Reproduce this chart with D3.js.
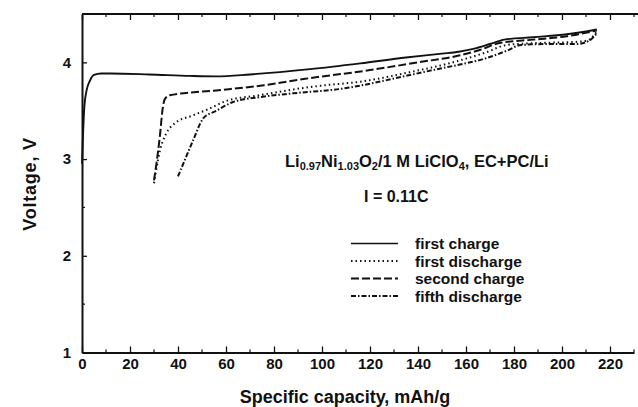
<!DOCTYPE html>
<html>
<head>
<meta charset="utf-8">
<script src="https://cdn.jsdelivr.net/npm/d3@7"></script>
<style>
  body { margin: 0; background: #fff; }
  svg { display: block; font-family: 'Liberation Sans', Arial, sans-serif; font-weight: bold; }
</style>
</head>
<body>
<svg id="chart" width="638" height="407"></svg>
<script>
// Axis ticks
const xTicks = [0, 20, 40, 60, 80, 100, 120, 140, 160, 180, 200, 220];
const yTicks = [1, 2, 3, 4];

// [specific capacity mAh/g, voltage V]
const firstCharge = [
  [0, 2.95], [0.5, 3.3], [1, 3.55], [2, 3.72], [3.3, 3.81], [5, 3.87], [8, 3.885],
  [12, 3.885], [28, 3.875], [45, 3.86], [56, 3.855], [70, 3.875], [95, 3.93],
  [116, 3.99], [135, 4.05], [150, 4.09], [157, 4.11], [163, 4.14], [170, 4.19],
  [176, 4.235], [188, 4.26], [202, 4.29], [214.5, 4.34]
];
const firstDischarge = [
  [30, 2.75], [31, 2.9], [32.5, 3.09], [35, 3.26], [38.7, 3.37], [46, 3.45],
  [53, 3.52], [60, 3.6], [74, 3.66], [88, 3.72], [100, 3.76], [116, 3.8],
  [135, 3.89], [156, 4.01], [168, 4.1], [177, 4.18], [190, 4.2], [205, 4.21],
  [211, 4.23], [214.5, 4.32]
];
const secondCharge = [
  [30, 2.78], [31, 2.95], [32.5, 3.25], [33.5, 3.5], [34.5, 3.62], [36.5, 3.66],
  [56, 3.71], [75, 3.76], [93, 3.83], [120, 3.92], [140, 4.0], [157, 4.07],
  [166, 4.13], [174, 4.2], [188, 4.235], [202, 4.27], [214.5, 4.33]
];
const fifthDischarge = [
  [40, 2.82], [43, 3.0], [46.4, 3.2], [50.5, 3.42], [56, 3.5], [63, 3.59],
  [74, 3.64], [88, 3.68], [109, 3.73], [116, 3.76], [135, 3.86], [150, 3.94],
  [158, 3.98], [168, 4.04], [177, 4.12], [183, 4.18], [195, 4.19], [206, 4.19],
  [211, 4.22], [214.5, 4.3]
];

const seriesNames = ['first charge', 'first discharge', 'second charge', 'fifth discharge'];
const seriesData = [firstCharge, firstDischarge, secondCharge, fifthDischarge];
const seriesDash = [null, '1.5,3', '8,3', '5,2,1.5,2'];

const svg = d3.select('#chart');
const ink = '#111';

const x = d3.scaleLinear().domain([0, 230]).range([82, 634]);
const y = d3.scaleLinear().domain([1, 4.5]).range([352.5, 14]);

// minor ticks
const xMinor = d3.range(10, 231, 20);
const yMinor = [1.5, 2.5, 3.5];

// bottom axis
const bottomAxis = svg.append('g').attr('transform', 'translate(0,352.5)');
bottomAxis.call(d3.axisBottom(x).tickValues(xTicks).tickSizeInner(-6).tickSizeOuter(0).tickPadding(6));
bottomAxis.selectAll('.tick line').attr('stroke', ink).attr('stroke-width', 1.3);
bottomAxis.selectAll('.domain').attr('stroke', ink).attr('stroke-width', 2);
bottomAxis.selectAll('text').attr('fill', ink).style('font-size', '15px').style('font-weight', 'bold');
bottomAxis.selectAll('.minor').data(xMinor).enter().append('line')
  .attr('x1', d => x(d)).attr('x2', d => x(d)).attr('y1', 0).attr('y2', -3)
  .attr('stroke', ink).attr('stroke-width', 1.2);

// top axis (ticks only, inward)
const topAxis = svg.append('g').attr('transform', 'translate(0,14)');
topAxis.call(d3.axisTop(x).tickValues(xTicks).tickSizeInner(-6).tickSizeOuter(0).tickFormat(''));
topAxis.selectAll('.tick line').attr('stroke', ink).attr('stroke-width', 1.3);
topAxis.select('.domain').attr('d', `M${x(0)},0H638`).attr('stroke', ink).attr('stroke-width', 2);
topAxis.selectAll('.minor').data(xMinor).enter().append('line')
  .attr('x1', d => x(d)).attr('x2', d => x(d)).attr('y1', 0).attr('y2', 3)
  .attr('stroke', ink).attr('stroke-width', 1.2);

// left axis
const leftAxis = svg.append('g').attr('transform', `translate(${x(0)},0)`);
leftAxis.call(d3.axisLeft(y).tickValues(yTicks).tickFormat(d3.format('d'))
  .tickSizeInner(-5).tickSizeOuter(0).tickPadding(11));
leftAxis.selectAll('.tick line').attr('stroke', ink).attr('stroke-width', 1.3);
leftAxis.selectAll('.domain').attr('stroke', ink).attr('stroke-width', 2);
leftAxis.selectAll('text').attr('fill', ink).style('font-size', '15px').style('font-weight', 'bold');
leftAxis.selectAll('.minor').data(yMinor).enter().append('line')
  .attr('y1', d => y(d)).attr('y2', d => y(d)).attr('x1', 0).attr('x2', 3)
  .attr('stroke', ink).attr('stroke-width', 1.2);

// curves
const line = d3.line()
  .x(d => x(d[0]))
  .y(d => y(d[1]))
  .curve(d3.curveMonotoneX);

seriesData.forEach((data, i) => {
  svg.append('path')
    .datum(data)
    .attr('fill', 'none')
    .attr('stroke', ink)
    .attr('stroke-width', i === 0 ? 1.9 : 2)
    .attr('stroke-dasharray', seriesDash[i])
    .attr('d', line);
});

// axis titles
svg.append('text')
  .attr('x', 345).attr('y', 403)
  .attr('text-anchor', 'middle')
  .attr('fill', ink)
  .style('font-size', '18px')
  .text('Specific capacity, mAh/g');

svg.append('text')
  .attr('transform', 'translate(36,184) rotate(-90)')
  .attr('text-anchor', 'middle')
  .attr('fill', ink)
  .style('font-size', '18px')
  .style('letter-spacing', '0.8px')
  .text('Voltage, V');

// annotation: cell composition
const note = svg.append('text')
  .attr('x', 285).attr('y', 167)
  .attr('fill', ink)
  .style('font-size', '16.5px');
const parts = [
  ['Li', false], ['0.97', true], ['Ni', false], ['1.03', true], ['O', false], ['2', true],
  ['/1 M LiClO', false], ['4', true], [', EC+PC/Li', false]
];
parts.forEach(p => {
  note.append('tspan')
    .attr('baseline-shift', p[1] ? '-3' : null)
    .style('font-size', p[1] ? '11px' : '16.5px')
    .text(p[0]);
});

svg.append('text')
  .attr('x', 364).attr('y', 202)
  .attr('fill', ink)
  .style('font-size', '16px')
  .text('I = 0.11C');

// legend
const legend = svg.append('g');
seriesNames.forEach((name, i) => {
  const ly = 243.5 + i * 17.5;
  legend.append('line')
    .attr('x1', 351).attr('x2', 398)
    .attr('y1', ly).attr('y2', ly)
    .attr('stroke', ink)
    .attr('stroke-width', i === 0 ? 1.6 : 1.8)
    .attr('stroke-dasharray', seriesDash[i]);
  legend.append('text')
    .attr('x', 415).attr('y', ly + 5.5)
    .attr('fill', ink)
    .style('font-size', '15.5px')
    .text(name);
});
</script>
</body>
</html>
